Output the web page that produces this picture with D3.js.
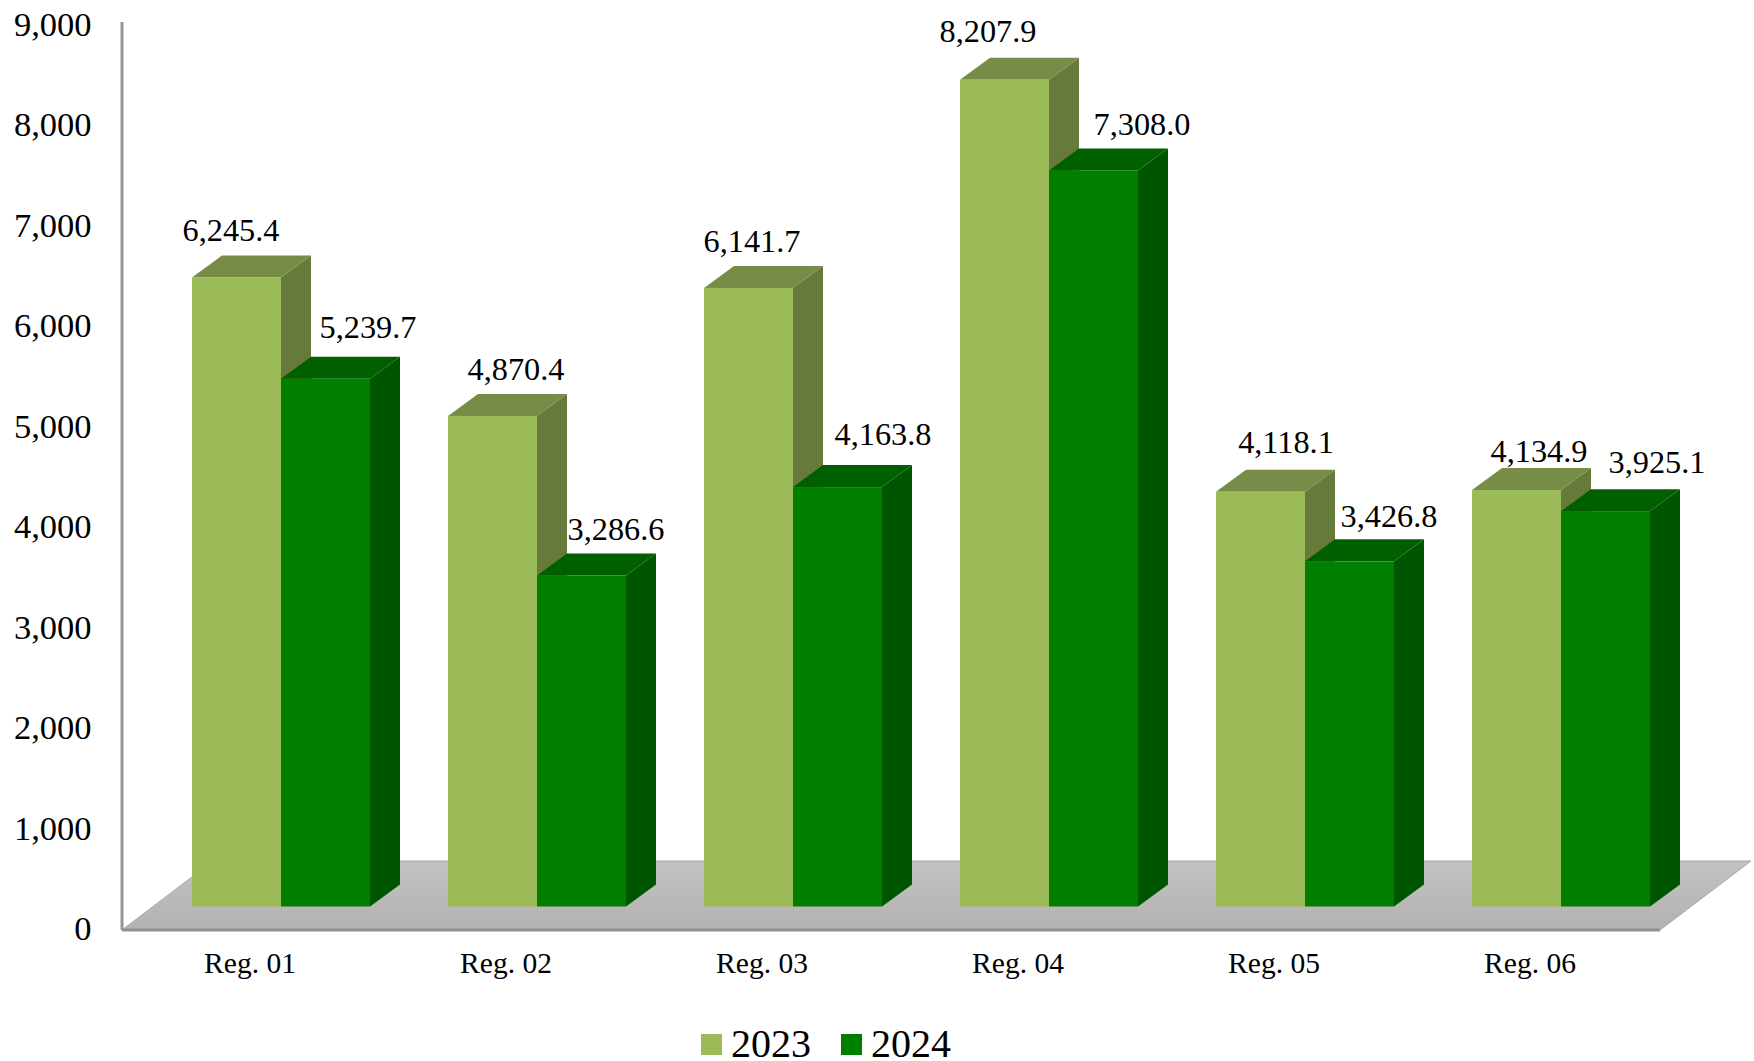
<!DOCTYPE html>
<html lang="en">
  <head>
    <meta charset="UTF-8" />
    <title>Reg. 2023-2024</title>
    <style>
      body { margin: 0; background: #fff; }
      svg { display: block; }
      text { font-family: 'Liberation Serif', serif; fill: #000; }
    </style>
  </head>
  <body>
    <script src="https://d3js.org/d3.v7.min.js"></script>
    <script>
      const categories = ['Reg. 01', 'Reg. 02', 'Reg. 03', 'Reg. 04', 'Reg. 05', 'Reg. 06']
      const seriesNames = ['2023', '2024']
      const values2023 = [6245.4, 4870.4, 6141.7, 8207.9, 4118.1, 4134.9]
      const values2024 = [5239.7, 3286.6, 4163.8, 7308.0, 3426.8, 3925.1]
      const yTicks = [0, 1000, 2000, 3000, 4000, 5000, 6000, 7000, 8000, 9000]

      // the value labels were placed by hand in the original, so each one has its own nudge
      const nudge2023 = [[-5.5, -36], [23.5, -36], [3.5, -36], [-16.5, -38], [25.5, -39], [22.5, -28]]
      const nudge2024 = [[42.5, -41], [34.5, -35], [45.5, -42], [48.5, -35], [39.5, -34], [51.5, -38]]

      const width = 1754
      const height = 1061

      const colors = [
        { front: '#9bbb59', top: '#778c47', side: '#667a3a' },
        { front: '#007f00', top: '#006000', side: '#005500' }
      ]

      const svg = d3.select('body').append('svg').attr('width', width).attr('height', height)

      const x0 = d3.scaleBand().domain(categories).range([192, 1650]).paddingInner(78 / 256)
      const x1 = d3.scaleBand().domain(seriesNames).range([0, x0.bandwidth()])
      const y = d3.scaleLinear().domain([0, 9000]).range([906.5, 0])
      const yAxisScale = d3.scaleLinear().domain([0, 9000]).range([926.5, 22])

      const axisX = 122
      const axisTop = 22
      const floorFront = 930
      const barDepth = { dx: 30, dy: 22 }
      const floorDepth = { dx: 91, dy: 69 }
      const floorRight = 1660

      const grad = svg.append('defs').append('linearGradient')
        .attr('id', 'floor').attr('x1', 0).attr('x2', 0).attr('y1', 0).attr('y2', 1)
      grad.append('stop').attr('offset', 0).attr('stop-color', '#c2c2c2')
      grad.append('stop').attr('offset', 1).attr('stop-color', '#b2b2b2')

      const poly = pts => pts.map(p => p.join(',')).join(' ')

      // floor
      svg.append('polygon')
        .attr('fill', 'url(#floor)')
        .attr('stroke', '#a8a8a8')
        .attr('stroke-width', 1)
        .attr('points', poly([
          [axisX, floorFront],
          [floorRight, floorFront],
          [floorRight + floorDepth.dx, floorFront - floorDepth.dy],
          [axisX + floorDepth.dx, floorFront - floorDepth.dy]
        ]))
      svg.append('line')
        .attr('x1', axisX).attr('x2', floorRight)
        .attr('y1', floorFront).attr('y2', floorFront)
        .attr('stroke', '#8f8f8f').attr('stroke-width', 3)
      svg.append('line')
        .attr('x1', axisX).attr('x2', axisX)
        .attr('y1', axisTop).attr('y2', floorFront)
        .attr('stroke', '#969696').attr('stroke-width', 3)

      // y axis
      const yAxis = svg.append('g')
        .attr('transform', `translate(${axisX - 0.5},0)`)
        .call(d3.axisLeft(yAxisScale).tickValues(yTicks).tickFormat(d3.format(',')).tickSize(0).tickPadding(30))
      yAxis.select('.domain').remove()
      yAxis.selectAll('text').attr('font-size', 34.5).attr('font-family', null).attr('dy', '0.38em')

      // x axis, its labels sit left of the bar groups in the original
      const xAxis = svg.append('g')
        .attr('transform', `translate(-31,${floorFront})`)
        .call(d3.axisBottom(x0).tickSize(0).tickPadding(22))
      xAxis.select('.domain').remove()
      xAxis.selectAll('text').attr('font-size', 29.5).attr('font-family', null)

      // bars
      const series = [values2023, values2024]
      const nudges = [nudge2023, nudge2024]

      categories.forEach((cat, i) => {
        seriesNames.forEach((name, s) => {
          const v = series[s][i]
          const left = x0(cat) + x1(name)
          const right = left + x1.bandwidth()
          const top = y(v)
          const g = svg.append('g')
          g.append('polygon')
            .attr('fill', colors[s].side)
            .attr('points', poly([
              [right, top], [right + barDepth.dx, top - barDepth.dy],
              [right + barDepth.dx, y(0) - barDepth.dy], [right, y(0)]
            ]))
          g.append('polygon')
            .attr('fill', colors[s].top)
            .attr('points', poly([
              [left, top], [left + barDepth.dx, top - barDepth.dy],
              [right + barDepth.dx, top - barDepth.dy], [right, top]
            ]))
          g.append('rect')
            .attr('fill', colors[s].front)
            .attr('x', left).attr('y', top)
            .attr('width', x1.bandwidth()).attr('height', y(0) - top)
        })
      })

      // value labels go on top of every bar
      categories.forEach((cat, i) => {
        seriesNames.forEach((name, s) => {
          const v = series[s][i]
          svg.append('text')
            .attr('x', x0(cat) + x1(name) + x1.bandwidth() / 2 + nudges[s][i][0])
            .attr('y', y(v) + nudges[s][i][1])
            .attr('text-anchor', 'middle')
            .attr('font-size', 32.3)
            .text(d3.format(',.1f')(v))
        })
      })

      // legend
      const legendX = d3.scaleOrdinal().domain(seriesNames).range([701, 841])
      const legend = svg.selectAll('.legend').data(seriesNames).enter().append('g')
        .attr('class', 'legend')
        .attr('transform', d => `translate(${legendX(d)},1034)`)
      legend.append('rect')
        .attr('width', 21).attr('height', 21)
        .attr('fill', (d, i) => colors[i].front)
      legend.append('text')
        .attr('x', 30).attr('y', 23)
        .attr('font-size', 40)
        .text(d => d)
    </script>
  </body>
</html>
